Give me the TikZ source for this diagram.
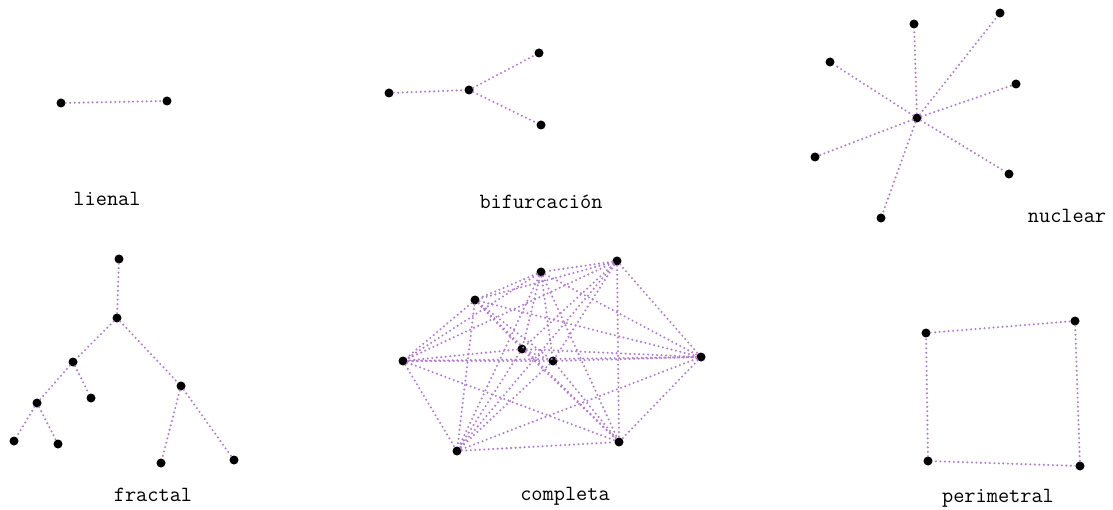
\documentclass[tikz,border=0pt]{standalone}
\definecolor{linkc}{RGB}{178,126,204}
\begin{document}
\begin{tikzpicture}[x=1pt,y=-1pt,
  pt/.style={circle,fill=black,inner sep=0pt,minimum size=9pt},
  link/.style={draw=linkc,line width=2.3pt,line cap=round,dash pattern=on 0pt off 4.5pt},
  lbl/.style={font=\ttfamily\fontsize{21.7}{24}\selectfont,inner sep=0pt,text=black}]
\useasboundingbox (0,0) rectangle (1113,510);
% lienal
\node[pt] (l1) at (61,103) {};
\node[pt] (l2) at (167,101) {};
\draw[link] (l1) -- (l2);
\node[lbl] (tl) at (107,199) {lienal};
% bifurcacion
\node[pt] (b1) at (389,93) {};
\node[pt] (b2) at (469,90) {};
\node[pt] (b3) at (539,53) {};
\node[pt] (b4) at (541,125) {};
\draw[link] (b1) -- (b2) (b2) -- (b3) (b2) -- (b4);
\node[lbl] (tb) at (541,202) {bifurcación};
% nuclear
\node[pt] (n0) at (917,118) {};
\node[pt] (n1) at (914,24) {};
\node[pt] (n2) at (1000,13) {};
\node[pt] (n3) at (830,62) {};
\node[pt] (n4) at (1016,84) {};
\node[pt] (n5) at (815,157) {};
\node[pt] (n6) at (1009,174) {};
\node[pt] (n7) at (881,218) {};
\foreach \i in {1,...,7} \draw[link] (n0) -- (n\i);
\node[lbl] (tn) at (1067,216) {nuclear};
% fractal
\node[pt] (f1) at (119,259) {};
\node[pt] (f2) at (117,318) {};
\node[pt] (f3) at (73,362) {};
\node[pt] (f4) at (37,403) {};
\node[pt] (f5) at (91,398) {};
\node[pt] (f6) at (14,441) {};
\node[pt] (f7) at (58,444) {};
\node[pt] (f8) at (181,386) {};
\node[pt] (f9) at (161,463) {};
\node[pt] (f10) at (234,460) {};
\draw[link] (f1) -- (f2) (f2) -- (f3) (f3) -- (f4) (f3) -- (f5) (f4) -- (f6) (f4) -- (f7)
  (f2) -- (f8) (f8) -- (f9) (f8) -- (f10);
\node[lbl] (tf) at (153,495) {fractal};
% completa
\node[pt] (c1) at (617,261) {};
\node[pt] (c2) at (541,272) {};
\node[pt] (c3) at (475,300) {};
\node[pt] (c4) at (522,349) {};
\node[pt] (c5) at (553,361) {};
\node[pt] (c6) at (403,361) {};
\node[pt] (c7) at (701,357) {};
\node[pt] (c8) at (457,451) {};
\node[pt] (c9) at (619,442) {};
\foreach \i in {1,...,8} {
  \pgfmathtruncatemacro{\s}{\i+1}
  \foreach \j in {\s,...,9} \draw[link] (c\i) -- (c\j);
}
\node[lbl] (tc) at (565,496) {completa};
% perimetral
\node[pt] (p1) at (926,333) {};
\node[pt] (p2) at (1075,321) {};
\node[pt] (p3) at (1080,466) {};
\node[pt] (p4) at (928,461) {};
\draw[link] (p1) -- (p2) (p2) -- (p3) (p3) -- (p4) (p4) -- (p1);
\node[lbl] (tp) at (998,498) {perimetral};
\end{tikzpicture}
\end{document}
